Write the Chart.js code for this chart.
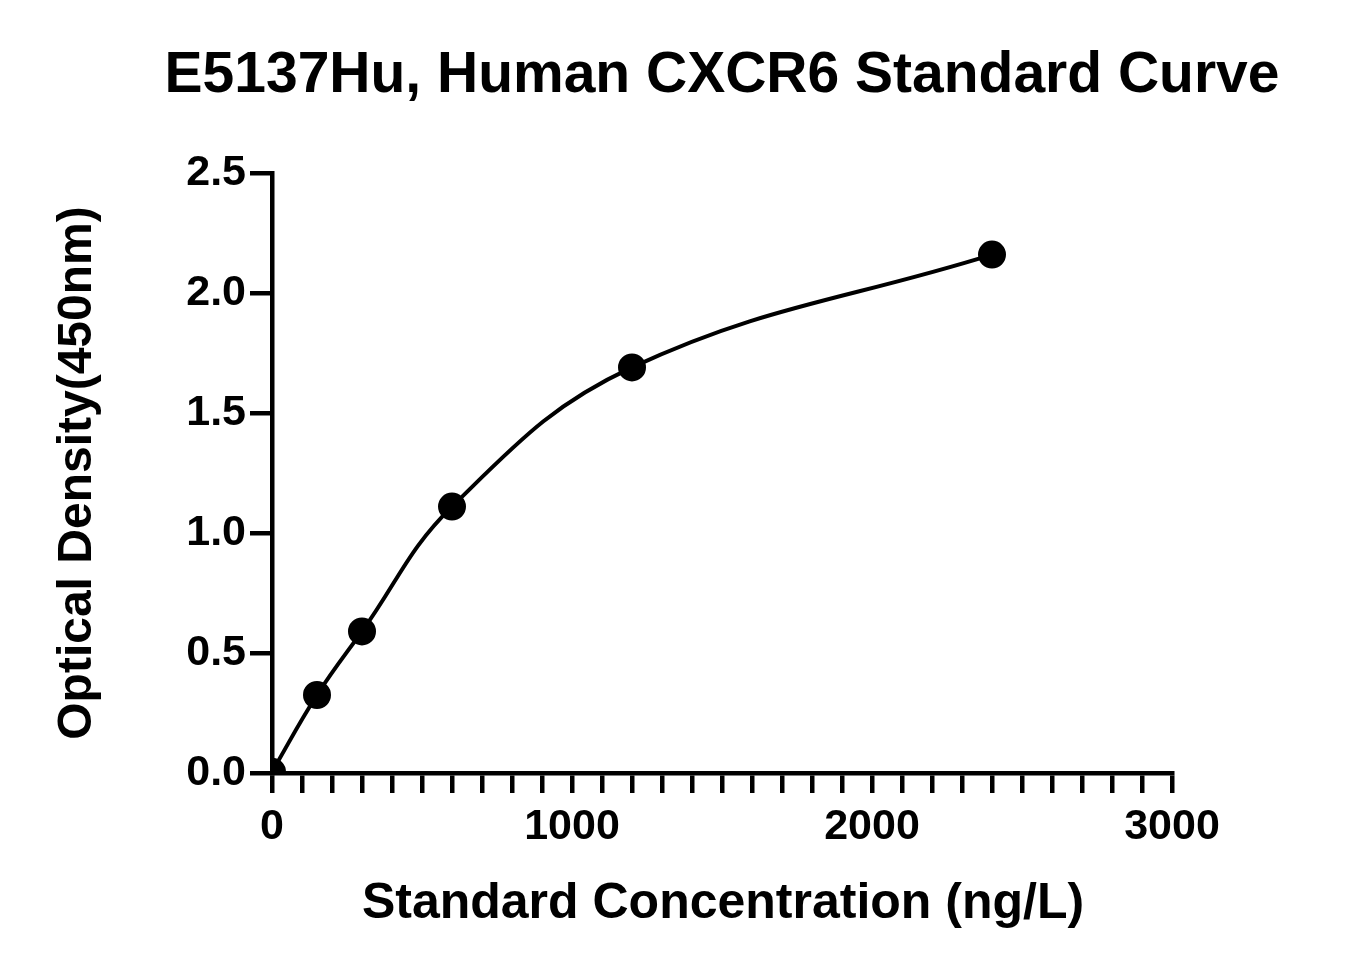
<!DOCTYPE html>
<html>
<head>
<meta charset="utf-8">
<script src="https://cdn.jsdelivr.net/npm/chart.js"></script>
<style>
  html, body { margin: 0; padding: 0; background: #fff; }
  #wrap { width: 1350px; height: 975px; }
</style>
</head>
<body>
<div id="wrap"><canvas id="curve" width="1350" height="975"></canvas></div>
<script>
// standard concentrations (ng/L) and measured OD
const concentrations = [0, 150, 300, 600, 1200, 2400];
const odValues = [0.005, 0.325, 0.59, 1.11, 1.69, 2.16];
const yTicks = [0, 0.5, 1.0, 1.5, 2.0, 2.5];
const xLabels = [0, 1000, 2000, 3000];

const chartTitle = 'E5137Hu, Human CXCR6 Standard Curve';
const xTitle = 'Standard Concentration (ng/L)';
const yTitle = 'Optical Density(450nm)';

const font = '"Liberation Sans", Arial, sans-serif';

const titles = {
  id: 'titles',
  afterDraw(chart) {
    const ctx = chart.ctx;
    const a = chart.chartArea;
    ctx.save();
    ctx.fillStyle = '#000';
    ctx.textAlign = 'center';
    ctx.textBaseline = 'middle';
    ctx.font = 'bold 57px ' + font;
    ctx.fillText(chartTitle, 722, 76);
    ctx.font = 'bold 50px ' + font;
    ctx.fillText(xTitle, 723, 904);
    ctx.font = 'bold 48px ' + font;
    ctx.translate(78, 473);
    ctx.rotate(-Math.PI / 2);
    ctx.fillText(yTitle, 0, 0);
    ctx.restore();
  }
};

const points = concentrations.map((x, i) => ({ x, y: odValues[i] }));

new Chart(document.getElementById('curve'), {
  type: 'scatter',
  data: {
    datasets: [{
      data: points,
      showLine: true,
      borderColor: '#000',
      backgroundColor: '#000',
      borderWidth: 4,
      tension: 0.4,
      pointRadius: 12,
      pointHoverRadius: 12
    }]
  },
  options: {
    responsive: false,
    animation: false,
    layout: { padding: { top: 173, right: 178, left: 0, bottom: 0 } },
    plugins: { legend: { display: false }, tooltip: { enabled: false } },
    scales: {
      x: {
        type: 'linear',
        min: 0, max: 3000,
        afterFit(s) { s.height = 202; },
        border: { color: '#000', width: 4.5 },
        grid: { drawOnChartArea: false, color: '#000', lineWidth: 4.5, tickLength: 20 },
        ticks: {
          stepSize: 100, autoSkip: false, maxRotation: 0,
          color: '#000', padding: 8,
          font: { family: font, size: 43, weight: 'bold' },
          callback: v => xLabels.includes(v) ? String(v) : ''
        }
      },
      y: {
        min: 0, max: 2.5,
        afterFit(s) { s.width = 272; },
        afterBuildTicks(s) { s.ticks = yTicks.map(v => ({ value: v })); },
        border: { color: '#000', width: 4.5 },
        grid: { drawOnChartArea: false, color: '#000', lineWidth: 4.5, tickLength: 22 },
        ticks: {
          color: '#000', padding: 4,
          font: { family: font, size: 43, weight: 'bold' },
          callback: v => v.toFixed(1)
        }
      }
    }
  },
  plugins: [titles]
});
</script>
</body>
</html>
